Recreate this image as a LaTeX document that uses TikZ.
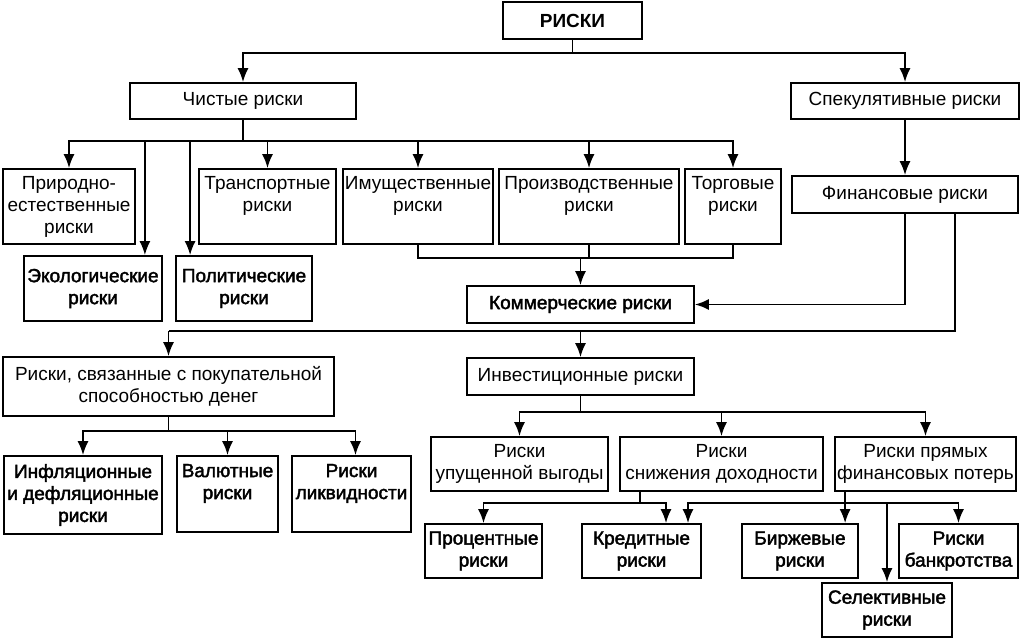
\documentclass[tikz,border=0pt]{standalone}
\usepackage{fontspec}
\setmainfont{Liberation Sans}
\newfontfamily\semib[FakeBold=2.2]{Liberation Sans}
\usetikzlibrary{arrows.meta,calc}
\begin{document}
\begin{tikzpicture}[x=1pt,y=-1pt,
  box/.style={draw,line width=1.8pt,align=center,inner sep=1pt,font=\fontsize{19}{22}\selectfont},
  bbox/.style={box,font=\fontsize{19}{22}\selectfont\semib},
  tbox/.style={box,font=\fontsize{19}{22}\selectfont\bfseries},
  sz/.style 2 args={minimum width=#1pt,minimum height=#2pt},
  ln/.style={line width=1.8pt},
  arr/.style={line width=1.8pt,-{Latex[length=14pt,width=11pt]}}]
\useasboundingbox (0,0) rectangle (1024,643);
% nodes
\node[tbox,sz={139}{37}] (riski) at (572.5,20.5) {РИСКИ};
\node[box,sz={226}{36}] (chist) at (243,101) {Чистые риски};
\node[box,sz={228}{36}] (spek) at (905,101) {Спекулятивные риски};
\node[box,sz={132}{75}] (prir) at (69,206.5) {Природно-\\естественные\\риски};
\node[bbox,sz={138}{65}] (eko) at (93,288.5) {Экологические\\риски};
\node[bbox,sz={136}{65}] (polit) at (244,288.5) {Политические\\риски};
\node[box,sz={137}{75}] (trans) at (267.5,206.5) {Транспортные\\риски\\[3pt]};
\node[box,sz={150}{75}] (imush) at (418,206.5) {Имущественные\\риски\\[3pt]};
\node[box,sz={180}{75}] (proizv) at (589,206.5) {Производственные\\риски\\[3pt]};
\node[box,sz={96}{75}] (torg) at (733,206.5) {Торговые\\риски\\[3pt]};
\node[box,sz={226}{37}] (fin) at (905,194.5) {Финансовые риски};
\node[bbox,sz={227}{37}] (komm) at (580.5,304.5) {Коммерческие риски};
\node[box,sz={331}{59}] (pokup) at (168.5,386.5) {Риски, связанные с покупательной\\способностью денег};
\node[box,sz={227}{37}] (invest) at (580.5,376.5) {Инвестиционные риски};
\node[bbox,sz={158}{78}] (infl) at (83,495) {Инфляционные\\и дефляционные\\риски};
\node[bbox,sz={101}{76}] (val) at (227.5,494) {Валютные\\риски\\[3pt]};
\node[bbox,sz={119}{76}] (likv) at (351.5,494) {Риски\\ликвидности\\[3pt]};
\node[box,sz={177}{54}] (upush) at (519.5,464) {Риски\\упущенной выгоды};
\node[box,sz={203}{54}] (snizh) at (721.5,464) {Риски\\снижения доходности};
\node[box,sz={181}{54}] (pryam) at (925.5,464) {Риски прямых\\финансовых потерь};
\node[bbox,sz={117}{54}] (proc) at (483.5,551) {Процентные\\риски};
\node[bbox,sz={119}{54}] (kred) at (641.5,551) {Кредитные\\риски};
\node[bbox,sz={116}{54}] (birzh) at (800,551) {Биржевые\\риски};
\node[bbox,sz={119}{54}] (bankr) at (958.5,551) {Риски\\банкротства};
\node[bbox,sz={130}{54}] (selekt) at (887,610) {Селективные\\риски};
% connectors
\coordinate (b1) at (572.5,53);
\draw[ln] (riski.south) -- (b1);
\draw[arr] (b1) -| (chist.north);
\draw[arr] (b1) -| (spek.north);
\coordinate (b2) at (243,141);
\draw[ln] (chist.south) -- (b2);
\draw[arr] (b2) -| (prir.north);
\draw[arr] (b2) -| ($(eko.north east)+(-18,0)$);
\draw[arr] (b2) -| ($(polit.north west)+(15,0)$);
\draw[arr] (b2) -| (trans.north);
\draw[arr] (b2) -| (imush.north);
\draw[arr] (b2) -| (proizv.north);
\draw[arr] (b2) -| (torg.north);
\draw[arr] (spek.south) -- (fin.north);
\coordinate (b3) at (580.5,258);
\draw[ln] (imush.south) |- (b3) -| (torg.south);
\draw[ln] (proizv.south) -- (proizv.south |- b3);
\draw[arr] (b3) -- (komm.north);
\draw[arr] (fin.south) |- (komm.east);
\coordinate (f2) at ($(fin.south)+(50,0)$);
\coordinate (b4) at (955,331);
\draw[ln] (f2) -- (b4) -- (pokup.north |- b4);
\draw[arr] (pokup.north |- b4) -- (pokup.north);
\draw[arr] (invest.north |- b4) -- (invest.north);
\coordinate (b6) at (168.5,431);
\draw[ln] (pokup.south) -- (b6);
\draw[arr] (b6) -| (infl.north);
\draw[arr] (b6) -| (val.north);
\draw[arr] (b6) -| ($(likv.north)+(4,0)$);
\coordinate (b5) at (580.5,412);
\draw[ln] (invest.south) -- (b5);
\draw[arr] (b5) -| (upush.north);
\draw[arr] (b5) -| (snizh.north);
\draw[arr] (b5) -| (pryam.north);
\coordinate (s1) at ($(snizh.south west)+(21,0)$);
\coordinate (b7) at (s1 |- 0,503);
\draw[ln] (s1) -- (b7);
\draw[arr] (b7) -| (proc.north);
\draw[arr] (b7) -| ($(kred.north)+(24.5,0)$);
\coordinate (p1) at ($(pryam.south west)+(11,0)$);
\coordinate (b8) at (p1 |- 0,503);
\draw[ln] (p1) -- (b8);
\draw[arr] (b8) -| ($(kred.north)+(46.5,0)$);
\draw[arr] (b8) -- (birzh.north -| b8);
\draw[arr] (b8) -| (bankr.north);
\draw[arr] (b8) -| (selekt.north);
\end{tikzpicture}
\end{document}
